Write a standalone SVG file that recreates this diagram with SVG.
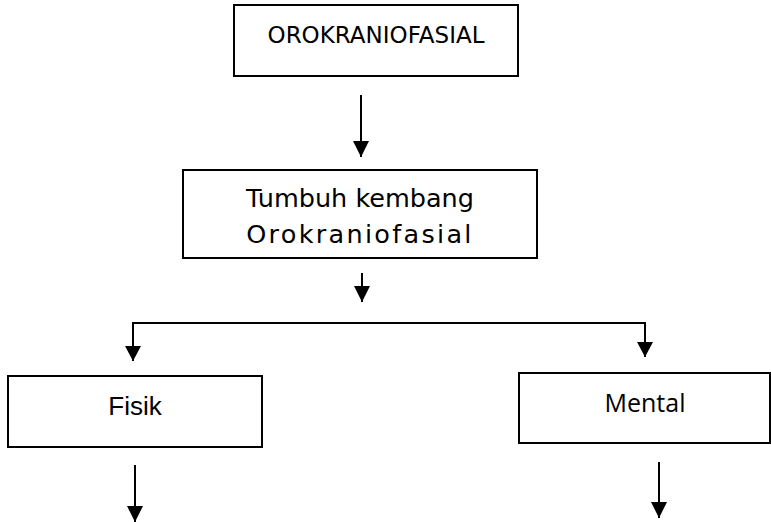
<svg xmlns="http://www.w3.org/2000/svg" width="771" height="522" viewBox="0 0 771 522">
<style>
.box{fill:#fff;stroke:#000;stroke-width:2}
.ln{fill:none;stroke:#000;stroke-width:2}
.t{fill:#000;text-anchor:middle}
</style>
<defs>
<marker id="ah" viewBox="0 0 16 16" refX="16" refY="8" markerWidth="16" markerHeight="16" markerUnits="userSpaceOnUse" orient="auto">
<path d="M0,0 L16,8 L0,16 Z" fill="#000"/>
</marker>
</defs>
<rect width="771" height="522" fill="#fff"/>
<g id="node-orokraniofasial">
<rect class="box" x="234" y="5" width="284" height="71"/>
<text class="t" x="376" y="43" font-family="DejaVu Sans, sans-serif" font-size="23">OROKRANIOFASIAL</text>
</g>
<g id="node-tumbuh-kembang">
<rect class="box" x="183" y="170" width="354" height="88"/>
<text class="t" x="360" y="207" font-family="DejaVu Sans, sans-serif" font-size="25.5">Tumbuh kembang</text>
<text class="t" x="360" y="243" font-family="DejaVu Sans, sans-serif" font-size="25.5" letter-spacing="2.3">Orokraniofasial</text>
</g>
<g id="node-fisik">
<rect class="box" x="8" y="376" width="254" height="71"/>
<text class="t" x="135" y="415" font-family="Liberation Sans, Arial, sans-serif" font-size="26">Fisik</text>
</g>
<g id="node-mental">
<rect class="box" x="519" y="373" width="251" height="70"/>
<text class="t" x="645" y="412" font-family="Open Sans, sans-serif" font-size="25">Mental</text>
</g>
<g id="connectors">
<line class="ln" x1="361" y1="95" x2="361" y2="157" marker-end="url(#ah)"/>
<line class="ln" x1="362" y1="273" x2="362" y2="302" marker-end="url(#ah)"/>
<path class="ln" d="M133,361 L133,323 L645,323 L645,357"/>
<path d="M125,346 L141,346 L133,361 Z" fill="#000"/>
<path d="M637,342 L653,342 L645,357 Z" fill="#000"/>
<line class="ln" x1="135" y1="465" x2="135" y2="522" marker-end="url(#ah)"/>
<line class="ln" x1="659" y1="462" x2="659" y2="518" marker-end="url(#ah)"/>
</g>
</svg>
